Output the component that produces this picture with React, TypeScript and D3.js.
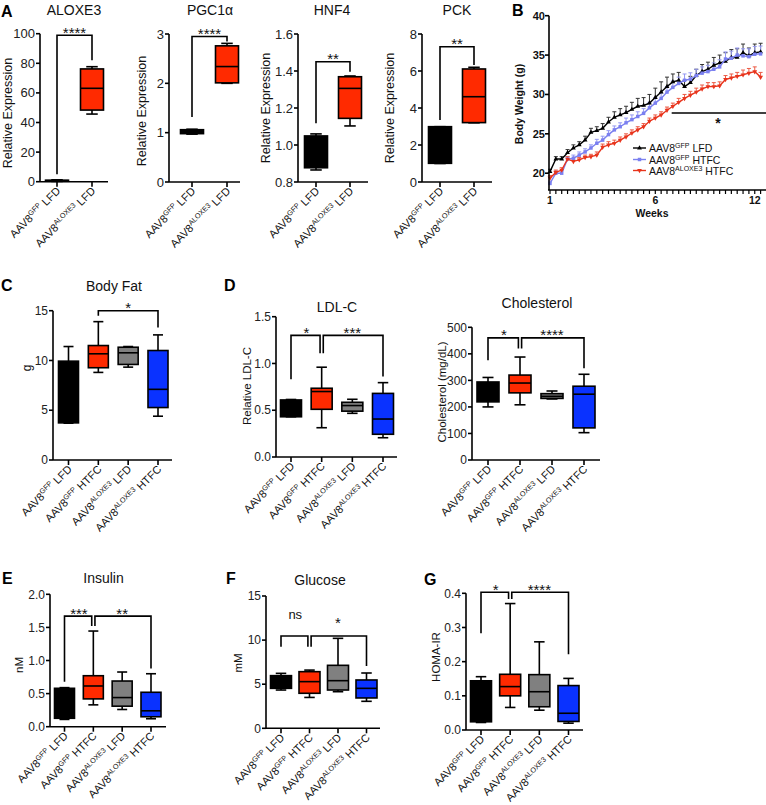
import React from "react";
import * as d3 from "d3";

const FONT = "'Liberation Sans', Arial, Helvetica, sans-serif";

// ---------- Panel A data: [min, q1, median, q3, max] ----------
const aSups = ["GFP", "ALOXE3"];
const aDiets = ["LFD", "LFD"];
const aColors = ["#000000", "#ff2a00"];
const aloxe3Stats = [[0.2, 0.4, 0.7, 1.0, 1.3], [45.7, 48.4, 63.1, 76.2, 77.7]];
const pgc1aStats = [[0.97, 0.98, 1.0, 1.06, 1.07], [2.0, 2.01, 2.34, 2.76, 2.81]];
const hnf4Stats = [[0.865, 0.877, 0.95, 1.049, 1.06], [1.103, 1.144, 1.306, 1.369, 1.373]];
const pckStats = [[1.0, 1.01, 2.0, 2.99, 2.99], [3.2, 3.21, 4.61, 6.11, 6.2]];

// ---------- 4-group panels ----------
const gSups = ["GFP", "GFP", "ALOXE3", "ALOXE3"];
const gDiets = ["LFD", "HTFC", "LFD", "HTFC"];
const gColors = ["#000000", "#ff2a00", "#808080", "#0a32ff"];
const bodyFatStats = [[3.7, 3.73, 7.0, 9.93, 11.4], [8.8, 9.27, 10.67, 11.5, 13.9], [9.33, 9.6, 10.77, 11.33, 11.4], [4.4, 5.27, 7.1, 11.0, 12.57]];
const ldlStats = [[0.43, 0.43, 0.5, 0.61, 0.615], [0.313, 0.51, 0.7, 0.735, 0.96], [0.467, 0.49, 0.55, 0.585, 0.617], [0.206, 0.243, 0.406, 0.68, 0.795]];
const cholStats = [[200, 219, 255, 294, 311], [208, 253, 290, 320, 388], [230, 232, 240, 250, 260], [103, 121, 248, 278, 323]];
const insulinStats = [[0.11, 0.127, 0.3, 0.58, 0.59], [0.33, 0.42, 0.615, 0.77, 1.445], [0.26, 0.31, 0.44, 0.69, 0.826], [0.12, 0.15, 0.24, 0.52, 0.8]];
const glucoseStats = [[4.34, 4.53, 5.1, 5.97, 6.23], [3.5, 3.97, 5.29, 6.42, 6.6], [4.15, 4.34, 5.4, 7.14, 10.2], [3.06, 3.44, 4.53, 5.48, 6.27]];
const homaStats = [[0.022, 0.024, 0.08, 0.144, 0.156], [0.066, 0.1, 0.127, 0.163, 0.37], [0.058, 0.068, 0.112, 0.162, 0.258], [0.02, 0.025, 0.049, 0.13, 0.151]];

type Bracket = { a: number; b: number; top: number; la: number; lb: number; label: string };
const aloxe3Br: Bracket[] = [{ a: 0, b: 1, top: 99, la: 5, lb: 82, label: "****" }];
const pgc1aBr: Bracket[] = [{ a: 0, b: 1, top: 2.95, la: 1.32, lb: 2.85, label: "****" }];
const hnf4Br: Bracket[] = [{ a: 0, b: 1, top: 1.45, la: 1.117, lb: 1.396, label: "**" }];
const pckBr: Bracket[] = [{ a: 0, b: 1, top: 7.31, la: 3.35, lb: 6.32, label: "**" }];
const bodyFatBr: Bracket[] = [{ a: 1, b: 3, top: 15, la: 14.5, lb: 13.3, label: "*" }];
const ldlBr: Bracket[] = [
  { a: 0, b: 1, top: 1.3, la: 0.83, lb: 1.11, label: "*" },
  { a: 1, b: 3, top: 1.3, la: 1.11, lb: 0.86, label: "***" },
];
const cholBr: Bracket[] = [
  { a: 0, b: 1, top: 460, la: 376, lb: 420, label: "*" },
  { a: 1, b: 3, top: 460, la: 420, lb: 346, label: "****" },
];
const insulinBr: Bracket[] = [
  { a: 0, b: 1, top: 1.67, la: 0.68, lb: 1.52, label: "***" },
  { a: 1, b: 3, top: 1.67, la: 1.52, lb: 0.88, label: "**" },
];
const glucoseBr: Bracket[] = [
  { a: 0, b: 1, top: 10.46, la: 9.25, lb: 9.25, label: "ns" },
  { a: 1, b: 3, top: 10.46, la: 9.25, lb: 7.06, label: "*" },
];
const homaBr: Bracket[] = [
  { a: 0, b: 1, top: 0.403, la: 0.283, lb: 0.383, label: "*" },
  { a: 1, b: 3, top: 0.403, la: 0.383, lb: 0.222, label: "****" },
];

// ---------- Panel B data (body weight, g, per measurement) ----------
const weekTickIdx = [0, 18, 35];
const weekTickLabels = ["1", "6", "12"];
const lfdGfp = [20.2, 21.8, 21.8, 22.6, 23.2, 23.6, 24.2, 25.2, 25.4, 25.7, 26.5, 27.1, 27.4, 27.7, 28.1, 28.5, 28.6, 28.9, 29.6, 30.3, 31.0, 31.6, 31.8, 31.0, 31.5, 32.4, 32.9, 33.2, 33.7, 34.0, 34.2, 34.7, 34.7, 35.3, 34.9, 35.3, 35.4];
const lfdGfpErr = [0.3, 0.3, 0.3, 0.4, 0.4, 0.4, 0.5, 0.5, 0.5, 0.6, 0.6, 0.7, 0.8, 0.8, 0.9, 1.0, 1.0, 1.1, 1.2, 1.3, 1.2, 1.0, 1.0, 0.8, 0.8, 0.8, 0.9, 0.9, 1.0, 1.0, 1.1, 1.0, 1.1, 1.1, 1.0, 1.1, 1.1];
const htfcGfp = [18.7, 20.0, 20.0, 21.8, 21.9, 22.3, 22.7, 23.2, 23.8, 24.2, 24.9, 25.5, 25.9, 26.4, 26.8, 27.2, 27.6, 28.3, 28.9, 29.5, 30.3, 30.9, 31.4, 31.8, 31.95, 32.4, 32.7, 32.9, 33.2, 33.5, 34.5, 34.6, 35.0, 34.9, 34.8, 35.1, 35.15];
const htfcGfpErr = [0.3, 0.3, 0.3, 0.3, 0.4, 0.4, 0.4, 0.4, 0.5, 0.5, 0.5, 0.5, 0.5, 0.6, 0.6, 0.6, 0.6, 0.7, 0.7, 0.7, 0.7, 0.8, 0.8, 0.8, 0.8, 0.8, 0.8, 0.8, 0.8, 0.9, 0.9, 0.9, 0.9, 0.9, 1.0, 1.0, 1.0];
const htfcAlox = [19.4, 20.1, 20.4, 21.8, 21.5, 21.7, 22.0, 22.1, 22.3, 23.3, 23.6, 23.8, 24.2, 24.6, 25.1, 25.5, 25.9, 26.6, 27.0, 27.4, 28.0, 28.5, 29.0, 29.5, 29.9, 30.3, 30.7, 31.0, 31.0, 31.1, 31.9, 32.1, 32.3, 32.5, 32.7, 32.9, 32.2];
const htfcAloxErr = [0.3, 0.3, 0.3, 0.3, 0.3, 0.3, 0.3, 0.3, 0.4, 0.4, 0.4, 0.4, 0.4, 0.4, 0.4, 0.4, 0.4, 0.4, 0.4, 0.4, 0.4, 0.4, 0.5, 0.5, 0.5, 0.5, 0.5, 0.5, 0.5, 0.5, 0.5, 0.5, 0.5, 0.6, 0.6, 0.6, 0.6];
const bSeriesNames = [["GFP", "LFD"], ["GFP", "HTFC"], ["ALOXE3", "HTFC"]];
const bSigSpan = [20.8, 37];
const bSigValue = 27.66;

const AXW = 1.6;

function XLabel({ x, y, sup, diet, size }: { x: number; y: number; sup: string; diet: string; size: number }) {
  return (
    <text transform={`translate(${x},${y}) rotate(-45)`} textAnchor="end" fontSize={size} fontFamily={FONT} fill="#111">
      AAV8
      <tspan dy={-size * 0.38} fontSize={size * 0.66}>{sup}</tspan>
      <tspan dy={size * 0.38}>{"\u00a0" + diet}</tspan>
    </text>
  );
}

type PanelProps = {
  x0: number; x1: number; c0: number; c1: number; yTop: number; yBot: number;
  domain: [number, number]; ticks: number[]; fmt: (v: number) => string;
  stats: number[][]; colors: string[]; sups: string[]; diets: string[];
  boxW: number; brackets: Bracket[];
  title?: string; titleX?: number; titleY?: number;
  ylabel: string; ylabelX: number; ylabelY: number; ylabelSize: number;
  tickSize: number; xlabSize: number; labelDy?: number;
};

function BoxPanel(p: PanelProps) {
  const y = d3.scaleLinear().domain(p.domain).range([p.yBot, p.yTop]);
  const x = d3.scalePoint<string>().domain(p.stats.map((_, i) => String(i))).range([p.c0, p.c1]);
  const cx = (i: number) => x(String(i)) as number;
  const capW = p.boxW * 0.5;
  const labelDy = p.labelDy ?? 2.5;
  return (
    <g fontFamily={FONT}>
      {p.title && (
        <text x={p.titleX} y={p.titleY} textAnchor="middle" fontSize={14} fill="#111">{p.title}</text>
      )}
      <text transform={`translate(${p.ylabelX},${p.ylabelY}) rotate(-90)`} textAnchor="middle" fontSize={p.ylabelSize} fill="#111">{p.ylabel}</text>
      {p.brackets.map((b, k) => {
        const offA = p.brackets.some((o) => o !== b && o.b === b.a) ? 1.6 : 0;
        const offB = p.brackets.some((o) => o !== b && o.a === b.b) ? -1.6 : 0;
        const xa = cx(b.a) + offA;
        const xb = cx(b.b) + offB;
        const isStar = b.label.startsWith("*");
        return (
          <g key={k}>
            <path d={`M${xa},${y(b.la)}V${y(b.top)}H${xb}V${y(b.lb)}`} fill="none" stroke="#000" strokeWidth={1.6} />
            <text x={(cx(b.a) + cx(b.b)) / 2} y={y(b.top) + (isStar ? labelDy : labelDy - 9)} textAnchor="middle" fontSize={isStar ? 15 : 13} fill="#111">{b.label}</text>
          </g>
        );
      })}
      {p.stats.map((s, i) => {
        const c = cx(i);
        return (
          <g key={i}>
            <line x1={c} x2={c} y1={y(s[0])} y2={y(s[1])} stroke="#000" strokeWidth={1.6} />
            <line x1={c} x2={c} y1={y(s[3])} y2={y(s[4])} stroke="#000" strokeWidth={1.6} />
            <line x1={c - capW / 2} x2={c + capW / 2} y1={y(s[0])} y2={y(s[0])} stroke="#000" strokeWidth={1.6} />
            <line x1={c - capW / 2} x2={c + capW / 2} y1={y(s[4])} y2={y(s[4])} stroke="#000" strokeWidth={1.6} />
            <rect x={c - p.boxW / 2} y={y(s[3])} width={p.boxW} height={Math.max(1, y(s[1]) - y(s[3]))} fill={p.colors[i]} stroke="#000" strokeWidth={1.6} />
            <line x1={c - p.boxW / 2} x2={c + p.boxW / 2} y1={y(s[2])} y2={y(s[2])} stroke="#000" strokeWidth={1.6} />
          </g>
        );
      })}
      <line x1={p.x0} x2={p.x0} y1={y(p.domain[1])} y2={p.yBot} stroke="#000" strokeWidth={AXW} />
      <line x1={p.x0} x2={p.x1} y1={p.yBot} y2={p.yBot} stroke="#000" strokeWidth={AXW} />
      {p.ticks.map((t) => (
        <g key={t}>
          <line x1={p.x0 - 4} x2={p.x0} y1={y(t)} y2={y(t)} stroke="#000" strokeWidth={AXW} />
          <text x={p.x0 - 5} y={y(t)} dy="0.35em" textAnchor="end" fontSize={p.tickSize} fill="#222">{p.fmt(t)}</text>
        </g>
      ))}
      {p.stats.map((_, i) => (
        <g key={i}>
          <line x1={cx(i)} x2={cx(i)} y1={p.yBot} y2={p.yBot + 5} stroke="#000" strokeWidth={AXW} />
          <XLabel x={cx(i) + 4} y={p.yBot + 10} sup={p.sups[i]} diet={p.diets[i]} size={p.xlabSize} />
        </g>
      ))}
    </g>
  );
}

function WeightPanel() {
  const x = d3.scaleLinear().domain([0, 36]).range([550, 760.6]);
  const y = d3.scaleLinear().domain([20, 40]).range([173.2, 15.7]);
  const axisBottom = 190;
  const series = [
    { v: lfdGfp, e: lfdGfpErr, color: "#000000", ecolor: "#333333", sym: d3.symbolTriangle, rot: 0 },
    { v: htfcGfp, e: htfcGfpErr, color: "#7b80f0", ecolor: "#9498f2", sym: d3.symbolSquare, rot: 0 },
    { v: htfcAlox, e: htfcAloxErr, color: "#e8341c", ecolor: "#ec5a44", sym: d3.symbolTriangle, rot: 180 },
  ];
  const line = d3.line<number>().x((_, i) => x(i)).y((d) => y(d));
  const yTicks = [20, 25, 30, 35, 40];
  const legendY = [148, 159.5, 170.5];
  return (
    <g fontFamily={FONT}>
      {series.map((s, k) => (
        <g key={"e" + k} stroke={s.ecolor} strokeWidth={1}>
          {s.v.map((v, i) => (
            <g key={i}>
              <line x1={x(i)} x2={x(i)} y1={y(v)} y2={y(v + s.e[i])} />
              <line x1={x(i) - 2} x2={x(i) + 2} y1={y(v + s.e[i])} y2={y(v + s.e[i])} />
            </g>
          ))}
        </g>
      ))}
      {series.map((s, k) => (
        <g key={"l" + k}>
          <path d={line(s.v) || ""} fill="none" stroke={s.color} strokeWidth={1.4} />
          {s.v.map((v, i) => (
            <path key={i} d={d3.symbol().type(s.sym).size(k === 1 ? 12 : 10)() || ""} transform={`translate(${x(i)},${y(v)}) rotate(${s.rot})`} fill={s.color} />
          ))}
        </g>
      ))}
      <line x1={x(bSigSpan[0])} x2={x(bSigSpan[1])} y1={y(bSigValue)} y2={y(bSigValue)} stroke="#000" strokeWidth={1.5} />
      <text x={718} y={y(bSigValue) + 15} textAnchor="middle" fontSize={14} fontWeight="bold" fill="#111">*</text>
      <line x1={549} x2={549} y1={y(40)} y2={axisBottom} stroke="#000" strokeWidth={AXW} />
      <line x1={548} x2={766} y1={axisBottom} y2={axisBottom} stroke="#000" strokeWidth={AXW} />
      {yTicks.map((t) => (
        <g key={t}>
          <line x1={545} x2={549} y1={y(t)} y2={y(t)} stroke="#000" strokeWidth={AXW} />
          <text x={545} y={y(t)} dy="0.35em" textAnchor="end" fontSize={11} fontWeight="bold" fill="#111">{t}</text>
        </g>
      ))}
      {lfdGfp.map((_, i) => (
        <line key={i} x1={x(i)} x2={x(i)} y1={axisBottom} y2={axisBottom + 4} stroke="#000" strokeWidth={1.2} />
      ))}
      {weekTickIdx.map((t, k) => (
        <text key={t} x={x(t)} y={axisBottom + 14} textAnchor="middle" fontSize={10.5} fontWeight="bold" fill="#111">{weekTickLabels[k]}</text>
      ))}
      <text x={652} y={217} textAnchor="middle" fontSize={10.5} fontWeight="bold" fill="#111">Weeks</text>
      <text transform="translate(523,104) rotate(-90)" textAnchor="middle" fontSize={10.5} fontWeight="bold" fill="#111">Body Weight (g)</text>
      {series.map((s, k) => (
        <g key={"lg" + k}>
          <line x1={633} x2={646} y1={legendY[k]} y2={legendY[k]} stroke={s.color} strokeWidth={1.4} />
          <path d={d3.symbol().type(s.sym).size(k === 1 ? 12 : 10)() || ""} transform={`translate(639.5,${legendY[k]}) rotate(${s.rot})`} fill={s.color} />
          <text x={649} y={legendY[k] + 4} fontSize={10.5} fill="#111">
            AAV8<tspan dy={-4} fontSize={7}>{bSeriesNames[k][0]}</tspan>
            <tspan dy={4}>{"\u00a0" + bSeriesNames[k][1]}</tspan>
          </text>
        </g>
      ))}
    </g>
  );
}

const f0 = (v: number) => d3.format("d")(v);
const f1 = (v: number) => d3.format(".1f")(v);

function Letter({ x, y, t }: { x: number; y: number; t: string }) {
  return <text x={x} y={y} fontFamily={FONT} fontWeight="bold" fontSize={16} fill="#000">{t}</text>;
}

export default function App() {
  const aCommon = { colors: aColors, sups: aSups, diets: aDiets, boxW: 23, tickSize: 13, xlabSize: 11, ylabel: "Relative Expression", ylabelSize: 12.5 };
  const gCommon = { colors: gColors, sups: gSups, diets: gDiets, boxW: 21, tickSize: 12, xlabSize: 11, ylabelSize: 11.5 };
  return (
    <svg width={766} height={805} style={{ position: "absolute", left: 0, top: 0, background: "#fff" }}>
      <rect width={766} height={805} fill="#fff" />
      <Letter x={1} y={17} t="A" />
      <Letter x={512} y={16} t="B" />
      <Letter x={1} y={291} t="C" />
      <Letter x={224} y={291} t="D" />
      <Letter x={2} y={584} t="E" />
      <Letter x={226} y={584} t="F" />
      <Letter x={424} y={585} t="G" />

      <BoxPanel {...aCommon} x0={40} x1={108} c0={57} c1={92} yTop={33.7} yBot={181.7} domain={[0, 100]} ticks={[0, 20, 40, 60, 80, 100]} fmt={f0} stats={aloxe3Stats} brackets={aloxe3Br} title="ALOXE3" titleX={74} titleY={15} ylabelX={11.5} ylabelY={113} />
      <BoxPanel {...aCommon} x0={169} x1={240} c0={192} c1={227} yTop={34} yBot={182} domain={[0, 3]} ticks={[0, 1, 2, 3]} fmt={f0} stats={pgc1aStats} brackets={pgc1aBr} title={"PGC1\u03b1"} titleX={210} titleY={15} ylabelX={146} ylabelY={111} />
      <BoxPanel {...aCommon} x0={298} x1={368} c0={316} c1={350} yTop={34} yBot={182} domain={[0.8, 1.6]} ticks={[0.8, 1.0, 1.2, 1.4, 1.6]} fmt={f1} stats={hnf4Stats} brackets={hnf4Br} title="HNF4" titleX={332} titleY={15} ylabelX={270} ylabelY={108} />
      <BoxPanel {...aCommon} x0={422} x1={492} c0={440} c1={474} yTop={34} yBot={182} domain={[0, 8]} ticks={[0, 2, 4, 6, 8]} fmt={f0} stats={pckStats} brackets={pckBr} title="PCK" titleX={457} titleY={15} ylabelX={394} ylabelY={108} />

      <WeightPanel />

      <BoxPanel {...gCommon} boxW={20} x0={53} x1={172} c0={68.5} c1={158} yTop={310.7} yBot={460} domain={[0, 15]} ticks={[0, 5, 10, 15]} fmt={f0} stats={bodyFatStats} brackets={bodyFatBr} title="Body Fat" titleX={114} titleY={291} ylabel="g" ylabelX={31} ylabelY={368} ylabelSize={12} />
      <BoxPanel {...gCommon} x0={276} x1={397} c0={291} c1={383} yTop={316.7} yBot={457} domain={[0, 1.5]} ticks={[0, 0.5, 1.0, 1.5]} fmt={f1} stats={ldlStats} brackets={ldlBr} title="LDL-C" titleX={337} titleY={312} ylabel="Relative LDL-C" ylabelX={251} ylabelY={386} />
      <BoxPanel {...gCommon} boxW={22} x0={472} x1={600} c0={488} c1={584} yTop={327.3} yBot={460} domain={[0, 500]} ticks={[0, 100, 200, 300, 400, 500]} fmt={f0} stats={cholStats} brackets={cholBr} title="Cholesterol" titleX={537} titleY={308} ylabel="Cholesterol (mg/dL)" ylabelX={446} ylabelY={392} />

      <BoxPanel {...gCommon} boxW={20} x0={50} x1={166} c0={64.5} c1={151} yTop={594.3} yBot={726.7} domain={[0, 2]} ticks={[0, 0.5, 1.0, 1.5, 2.0]} fmt={f1} stats={insulinStats} brackets={insulinBr} title="Insulin" titleX={103.5} titleY={583} ylabel="nM" ylabelX={23} ylabelY={665} />
      <BoxPanel {...gCommon} x0={266} x1={380} c0={281} c1={366.5} yTop={596} yBot={728.3} domain={[0, 15]} ticks={[0, 5, 10, 15]} fmt={f0} stats={glucoseStats} brackets={glucoseBr} title="Glucose" titleX={320} titleY={585} ylabel="mM" ylabelX={242} ylabelY={663} labelDy={-8} />
      <BoxPanel {...gCommon} x0={466} x1={583} c0={481} c1={568.5} yTop={593.3} yBot={730} domain={[0, 0.4]} ticks={[0, 0.1, 0.2, 0.3, 0.4]} fmt={f1} stats={homaStats} brackets={homaBr} ylabel="HOMA-IR" ylabelX={440} ylabelY={657} />
    </svg>
  );
}
